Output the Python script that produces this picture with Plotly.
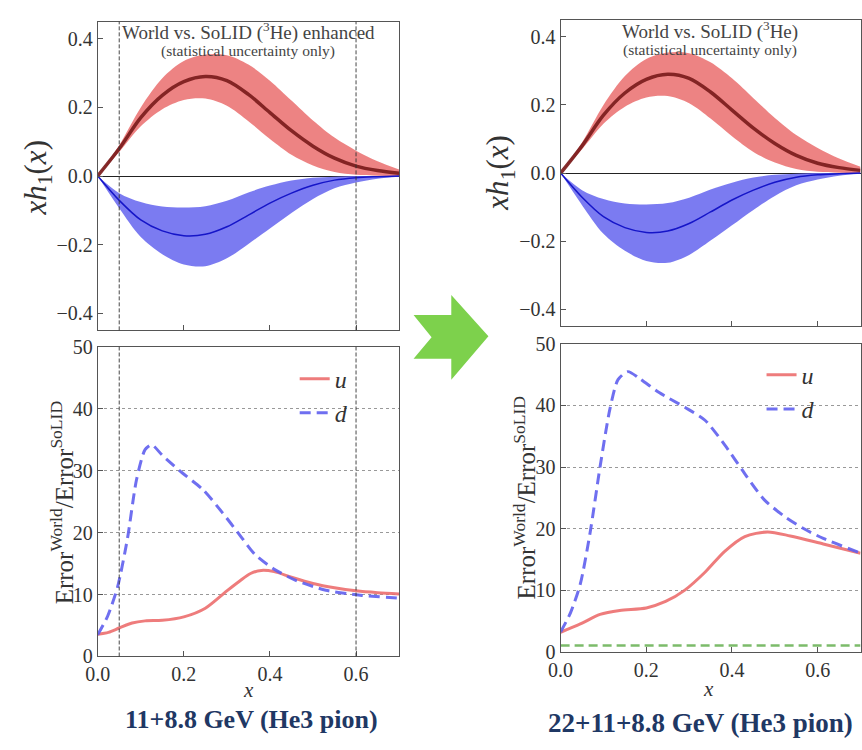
import plotly.graph_objects as go

# ---------------- data ----------------
# top panels: x*h1(x) (World fit band and SoLID central band)
X_TOP = [0, 0.05, 0.1, 0.15, 0.2, 0.25, 0.3, 0.35, 0.4, 0.45, 0.5, 0.55, 0.6, 0.65, 0.7]
U_CENTER = [0, 0.08, 0.17, 0.235, 0.275, 0.29, 0.278, 0.238, 0.185, 0.132, 0.087, 0.052, 0.029, 0.016, 0.008]
U_UPPER = [0, 0.09, 0.2, 0.285, 0.335, 0.354, 0.352, 0.325, 0.278, 0.22, 0.162, 0.112, 0.074, 0.043, 0.019]
U_LOWER = [0, 0.07, 0.145, 0.195, 0.222, 0.226, 0.205, 0.16, 0.108, 0.062, 0.031, 0.012, 0.004, 0.001, 0]
D_CENTER = [0, -0.071, -0.128, -0.16, -0.174, -0.17, -0.148, -0.114, -0.079, -0.05, -0.027, -0.012, -0.005, -0.002, 0]
D_UPPER = [0, -0.05, -0.076, -0.089, -0.092, -0.088, -0.072, -0.048, -0.028, -0.013, -0.005, -0.002, 0, 0, 0]
D_LOWER = [0, -0.094, -0.178, -0.228, -0.258, -0.263, -0.24, -0.198, -0.153, -0.108, -0.067, -0.036, -0.019, -0.008, -0.002]

# bottom-left: ratio, 11+8.8 GeV
XL_U = [0, 0.025, 0.05, 0.08, 0.11, 0.15, 0.2, 0.25, 0.3, 0.33, 0.355, 0.38, 0.41, 0.45, 0.5, 0.55, 0.6, 0.65, 0.7]
YL_U = [3.6, 3.9, 4.6, 5.4, 5.75, 5.85, 6.4, 7.8, 10.6, 12.2, 13.4, 13.9, 13.7, 12.8, 11.8, 11.1, 10.6, 10.3, 10.1]
XL_D = [0, 0.023, 0.046, 0.069, 0.09, 0.11, 0.125, 0.15, 0.19, 0.245, 0.29, 0.33, 0.365, 0.41, 0.46, 0.53, 0.61, 0.7]
YL_D = [3.5, 6.5, 11.2, 19, 28.5, 33.4, 34.2, 32.5, 30.0, 26.9, 23.2, 19.6, 16.5, 14.1, 12.3, 10.7, 9.9, 9.4]

# bottom-right: ratio, 22+11+8.8 GeV
XR_U = [0, 0.046, 0.092, 0.138, 0.2, 0.245, 0.29, 0.337, 0.383, 0.43, 0.483, 0.536, 0.613, 0.7]
YR_U = [3.15, 4.5, 6.05, 6.7, 7.1, 8.15, 10.0, 12.9, 16.3, 18.7, 19.45, 18.8, 17.5, 16.0]
XR_D = [0, 0.023, 0.046, 0.069, 0.092, 0.115, 0.134, 0.157, 0.184, 0.23, 0.29, 0.337, 0.383, 0.43, 0.475, 0.52, 0.567, 0.613, 0.7]
YR_D = [3.2, 6.3, 11, 19.4, 30, 39.4, 44.2, 45.5, 44.4, 42.1, 39.7, 37.6, 33.6, 28.9, 24.7, 22.1, 20, 18.4, 16.0]

BASELINE = 1.0          # green dashed reference (right panel)
KIN_CUTS = [0.05, 0.6]  # vertical dashed lines (left panels)

X_RANGE = [0, 0.7]
Y_TOP_RANGE = [-0.45, 0.45]
Y_BOT_RANGE = [0, 50]
X_TICKS = [0.0, 0.2, 0.4, 0.6]
Y_TOP_TICKS = [-0.4, -0.2, 0.0, 0.2, 0.4]
Y_BOT_TICKS = [0, 10, 20, 30, 40, 50]

# ---------------- style ----------------
W, H = 862, 750
FONT = "Liberation Serif, DejaVu Serif, serif"
RED_BAND = "rgba(232,100,100,0.8)"
BLUE_BAND = "rgba(100,100,238,0.85)"
RED_CENTER = "rgba(120,25,25,0.9)"
BLUE_CENTER = "#1515c8"
U_COL = "rgba(236,110,110,0.9)"
D_COL = "rgba(95,95,238,0.9)"


def px(x):
    return x / W


def py(y):
    return 1 - y / H


fig = go.Figure()


def add_top(xa, ya):
    for lo, hi, col in [(U_LOWER, U_UPPER, RED_BAND), (D_LOWER, D_UPPER, BLUE_BAND)]:
        fig.add_trace(go.Scatter(x=X_TOP, y=lo, mode="lines",
                                 line=dict(width=0, shape="spline", smoothing=0.9),
                                 showlegend=False, hoverinfo="skip", xaxis=xa, yaxis=ya))
        fig.add_trace(go.Scatter(x=X_TOP, y=hi, mode="lines",
                                 line=dict(width=0, shape="spline", smoothing=0.9),
                                 fill="tonexty", fillcolor=col, showlegend=False,
                                 hoverinfo="skip", xaxis=xa, yaxis=ya))
    fig.add_trace(go.Scatter(x=X_TOP, y=U_CENTER, mode="lines",
                             line=dict(color=RED_CENTER, width=3.5, shape="spline", smoothing=0.9),
                             showlegend=False, xaxis=xa, yaxis=ya))
    fig.add_trace(go.Scatter(x=X_TOP, y=D_CENTER, mode="lines",
                             line=dict(color=BLUE_CENTER, width=1.5, shape="spline", smoothing=0.9),
                             showlegend=False, xaxis=xa, yaxis=ya))


def add_bottom(xa, ya, xu, yu, xd, yd, leg):
    fig.add_trace(go.Scatter(x=xu, y=yu, mode="lines", name="<i>u</i>",
                             line=dict(color=U_COL, width=3, shape="spline", smoothing=0.8),
                             xaxis=xa, yaxis=ya, legend=leg))
    fig.add_trace(go.Scatter(x=xd, y=yd, mode="lines", name="<i>d</i>",
                             line=dict(color=D_COL, width=3, dash="11px,6px", shape="spline", smoothing=0.7),
                             xaxis=xa, yaxis=ya, legend=leg))


add_top("x", "y")
add_bottom("x2", "y2", XL_U, YL_U, XL_D, YL_D, "legend")
add_top("x3", "y3")
add_bottom("x4", "y4", XR_U, YR_U, XR_D, YR_D, "legend2")

# green dashed reference line in right bottom panel
fig.add_trace(go.Scatter(x=X_RANGE, y=[BASELINE, BASELINE], mode="lines",
                         line=dict(color="rgba(110,180,90,0.9)", width=2.5, dash="9px,5px"),
                         showlegend=False, xaxis="x4", yaxis="y4"))

# ---------------- axes ----------------
axis_common = dict(showline=True, linecolor="#555", linewidth=1, mirror=True,
                   ticks="inside", ticklen=5, tickcolor="#555", tickwidth=1,
                   tickfont=dict(family=FONT, size=20, color="#333"))

dom = {
    "LT": dict(x=[px(86), px(392)], y=[py(329), py(11)]),
    "LB": dict(x=[px(86), px(392)], y=[py(665), py(346)]),
    "RT": dict(x=[px(556), px(860.5)], y=[py(325), py(9)]),
    "RB": dict(x=[px(556), px(860.5)], y=[py(660), py(343)]),
}

grid_bot = dict(showgrid=True, gridcolor="#999", gridwidth=1, griddash="dot")

layout = dict(
    width=W, height=H, margin=dict(l=0, r=0, t=0, b=0),
    paper_bgcolor="white", plot_bgcolor="white", showlegend=True,
    xaxis=dict(**axis_common, showgrid=False, domain=dom["LT"]["x"], range=X_RANGE, tickvals=X_TICKS,
               showticklabels=False, anchor="y", zeroline=False),
    yaxis=dict(**axis_common, showgrid=False, domain=dom["LT"]["y"], range=Y_TOP_RANGE,
               tickvals=Y_TOP_TICKS, tickformat=".1f", anchor="x",
               zeroline=True, zerolinecolor="#222", zerolinewidth=1),
    xaxis2=dict(**axis_common, showgrid=False, domain=dom["LB"]["x"], range=X_RANGE,
                tickvals=X_TICKS, tickformat=".1f", anchor="y2", zeroline=False),
    yaxis2=dict(**axis_common, **grid_bot, domain=dom["LB"]["y"], range=Y_BOT_RANGE,
                tickvals=Y_BOT_TICKS, anchor="x2", zeroline=False),
    xaxis3=dict(**axis_common, showgrid=False, domain=dom["RT"]["x"], range=X_RANGE, tickvals=X_TICKS,
                showticklabels=False, anchor="y3", zeroline=False),
    yaxis3=dict(**axis_common, showgrid=False, domain=dom["RT"]["y"], range=Y_TOP_RANGE,
                tickvals=Y_TOP_TICKS, tickformat=".1f", anchor="x3",
                zeroline=True, zerolinecolor="#222", zerolinewidth=1),
    xaxis4=dict(**axis_common, showgrid=False, domain=dom["RB"]["x"], range=X_RANGE,
                tickvals=X_TICKS, tickformat=".1f", anchor="y4", zeroline=False),
    yaxis4=dict(**axis_common, **grid_bot, domain=dom["RB"]["y"], range=Y_BOT_RANGE,
                tickvals=Y_BOT_TICKS, anchor="x4", zeroline=False),
    legend=dict(x=px(286), y=py(356), xanchor="left", yanchor="top", traceorder="normal",
                bgcolor="rgba(0,0,0,0)", font=dict(family=FONT, size=24, color="#333"),
                tracegroupgap=0),
    legend2=dict(x=px(760), y=py(352), xanchor="left", yanchor="top", traceorder="normal",
                 bgcolor="rgba(0,0,0,0)", font=dict(family=FONT, size=24, color="#333"),
                 tracegroupgap=0),
)
fig.update_layout(**layout)

# vertical dashed kinematic lines in left panels
shapes = []
for xc in KIN_CUTS:
    for xa, ya in [("x", "y"), ("x2", "y2")]:
        shapes.append(dict(type="line", xref=xa, yref=f"{ya} domain", x0=xc, x1=xc, y0=0, y1=1,
                           line=dict(color="#333", width=0.9, dash="4px,2px")))

# green arrow (decoration)
arrow_pts = [(406.7, 313.3), (445, 313.3), (445, 292.7), (482.7, 335), (445, 380),
             (445, 358.3), (406.7, 358.3), (425, 336)]
path = "M " + " L ".join(f"{px(a):.5f},{py(b):.5f}" for a, b in arrow_pts) + " Z"
shapes.append(dict(type="path", xref="paper", yref="paper", path=path,
                   fillcolor="#7dd14c", line=dict(width=0)))
fig.update_layout(shapes=shapes)

ann = []


def txt(x, y, s, size, color="#333", angle=0, family=FONT):
    ann.append(dict(x=px(x), y=py(y), xref="paper", yref="paper", text=s, showarrow=False,
                    textangle=angle, xanchor="center", yanchor="middle",
                    font=dict(family=family, size=size, color=color)))


txt(239, 21, "World vs. SoLID (<sup>3</sup>He) enhanced", 19, "#444")
txt(239, 41, "(statistical uncertainty only)", 15.5, "#444")
txt(708, 20, "World vs. SoLID (<sup>3</sup>He)", 19, "#444")
txt(708, 40, "(statistical uncertainty only)", 15.5, "#444")

txt(25, 172, "<i>xh</i><sub>1</sub>(<i>x</i>)", 31, angle=-90)
txt(495, 167, "<i>xh</i><sub>1</sub>(<i>x</i>)", 31, angle=-90)
txt(50, 507, "Error<sup>World</sup>/Error<sup>SoLID</sup>", 25, angle=-90)
txt(520, 502, "Error<sup>World</sup>/Error<sup>SoLID</sup>", 25, angle=-90)

txt(239, 700, "<i>x</i>", 21)
txt(706, 699, "<i>x</i>", 21)

txt(242, 730, "<b>11+8.8 GeV (He3 pion)</b>", 26, "#1f3864")
txt(698, 734, "<b>22+11+8.8 GeV (He3 pion)</b>", 27, "#1f3864")

fig.update_layout(annotations=ann)

fig.write_html("out.html")
